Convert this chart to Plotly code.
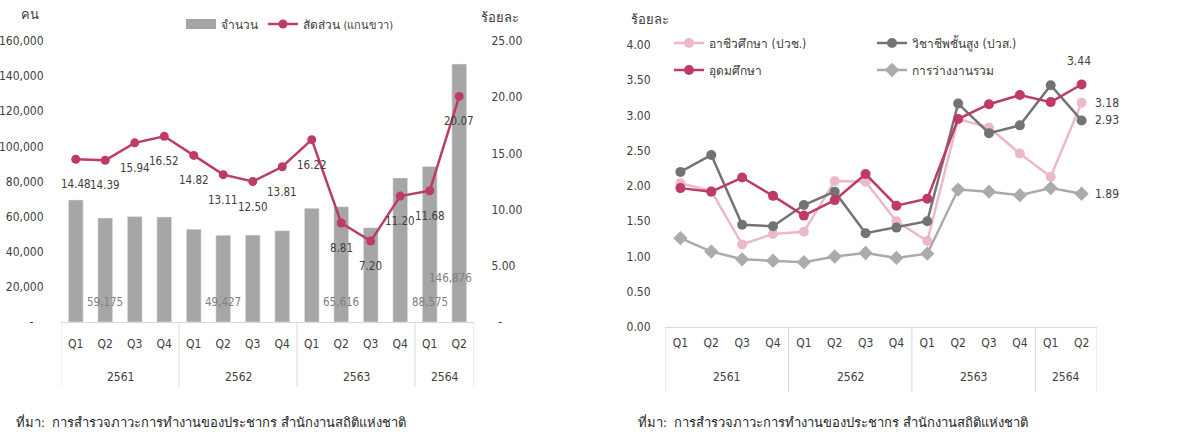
import plotly.graph_objects as go

# ---- shared category axis (Thai Buddhist-era years, quarters) ----
years = ["2561"] * 4 + ["2562"] * 4 + ["2563"] * 4 + ["2564"] * 2
quarters = ["Q1", "Q2", "Q3", "Q4"] * 3 + ["Q1", "Q2"]

# ---- left panel: unemployed graduates (persons) and share (%) ----
grad_unemployed = [69500, 59175, 60000, 59800, 52800, 49427, 49500, 52000,
                   64800, 65616, 53700, 82000, 88575, 146876]
grad_share = [14.48, 14.39, 15.94, 16.52, 14.82, 13.11, 12.50, 13.81,
              16.22, 8.81, 7.20, 11.20, 11.68, 20.07]
labelled_bars = [1, 5, 9, 12, 13]

left_ticks = [0, 20000, 40000, 60000, 80000, 100000, 120000, 140000, 160000]
left_ticktext = ["-\u00a0\u00a0\u00a0"] + [f"{v:,}" for v in left_ticks[1:]]
right_ticks = [0, 5, 10, 15, 20, 25]
right_ticktext = ["\u00a0\u00a0-"] + [f"{v:.2f}" for v in right_ticks[1:]]

# ---- right panel: unemployment rate by education level (%) ----
rate_voc = [2.04, 1.93, 1.17, 1.32, 1.35, 2.07, 2.06, 1.50, 1.22, 2.95, 2.83, 2.46, 2.13, 3.18]
rate_high_voc = [2.20, 2.44, 1.45, 1.43, 1.73, 1.92, 1.33, 1.41, 1.50, 3.17, 2.75, 2.86, 3.43, 2.93]
rate_univ = [1.97, 1.92, 2.12, 1.86, 1.58, 1.80, 2.17, 1.72, 1.82, 2.95, 3.16, 3.29, 3.19, 3.44]
rate_total = [1.26, 1.07, 0.96, 0.94, 0.92, 1.00, 1.05, 0.98, 1.04, 1.95, 1.92, 1.87, 1.97, 1.89]

rate_ticks = [0, 0.5, 1, 1.5, 2, 2.5, 3, 3.5, 4]

CRIMSON = "#BE3A69"
PINK = "#EBB9CA"
DARK = "#737373"
LIGHT = "#ABABAB"
BAR = "#A6A6A6"
TXT = "#404040"
AXIS_LINE = "#D9D9D9"
FONT = "DejaVu Sans Condensed, Liberation Sans, sans-serif"

W, H = 1195, 435


def px(v):
    return v / W


def py(v):
    return 1 - v / H


idx = list(range(len(quarters)))

# year groups: centre position and boundaries along the category axis
groups = []
for i, yv in enumerate(years):
    if not groups or groups[-1][0] != yv:
        groups.append([yv, i, i])
    else:
        groups[-1][2] = i
bounds = [g[1] - 0.5 for g in groups] + [groups[-1][2] + 0.5]

fig = go.Figure()

fig.add_trace(go.Bar(
    x=idx, y=grad_unemployed, name="จำนวน", marker_color=BAR,
    width=0.5, xaxis="x", yaxis="y", showlegend=False,
))
# legend key for the bars, drawn as a wide grey block
fig.add_trace(go.Scatter(
    x=[None], y=[None], name="จำนวน", mode="lines",
    line=dict(color=BAR, width=10), xaxis="x", yaxis="y", legend="legend",
))
fig.add_trace(go.Scatter(
    x=idx, y=grad_share,
    name="สัดส่วน <span style='font-size:11px'>(แกนขวา)</span>",
    mode="lines+markers",
    line=dict(color=CRIMSON, width=2.5), marker=dict(size=9, color=CRIMSON),
    xaxis="x", yaxis="y2", legend="legend",
))

right_series = [
    ("อาชีวศึกษา (ปวช.)", rate_voc, PINK, "circle", "legend2"),
    ("วิชาชีพชั้นสูง (ปวส.)", rate_high_voc, DARK, "circle", "legend2"),
    ("อุดมศึกษา", rate_univ, CRIMSON, "circle", "legend3"),
    ("การว่างงานรวม", rate_total, LIGHT, "diamond", "legend3"),
]
for name, vals, color, symbol, lg in right_series:
    fig.add_trace(go.Scatter(
        x=idx, y=vals, name=name, mode="lines+markers",
        line=dict(color=color, width=2.5),
        marker=dict(size=10 if symbol == "circle" else 11, color=color, symbol=symbol),
        xaxis="x2", yaxis="y3", legend=lg,
    ))

annotations = []
# share labels under each point
for i, v in enumerate(grad_share):
    annotations.append(dict(x=i, y=v, xref="x", yref="y2", text=f"{v:.2f}",
                            showarrow=False, yshift=-25,
                            font=dict(size=11.5, color=TXT)))
# count labels near bar bases
for i in labelled_bars:
    last = i == len(grad_unemployed) - 1
    annotations.append(dict(x=i, y=0, xref="x", yref="y", text=f"{grad_unemployed[i]:,}",
                            showarrow=False, yanchor="bottom",
                            yshift=35 if last else 11, xshift=-9 if last else 0,
                            font=dict(size=11.5, color="#7F7F7F")))
# end-of-series labels on the right panel
n = len(rate_univ) - 1
annotations.append(dict(x=n, y=rate_univ[n], xref="x2", yref="y3", text=f"{rate_univ[n]:.2f}",
                        showarrow=False, yshift=23, xshift=-3, font=dict(size=12, color=TXT)))
for vals in (rate_voc, rate_high_voc, rate_total):
    annotations.append(dict(x=n, y=vals[n], xref="x2", yref="y3", text=f"{vals[n]:.2f}",
                            showarrow=False, xanchor="left", xshift=11,
                            font=dict(size=12, color=TXT)))

# year row under the quarter labels, with table-style dividers
shapes = []
for xa, top, bottom, label_y in (("x", 322, 387, 377), ("x2", 327, 392, 377)):
    for name, first, last in groups:
        annotations.append(dict(x=(first + last) / 2, y=py(label_y), xref=xa, yref="paper",
                                yanchor="middle", text=name, showarrow=False,
                                font=dict(size=12, color=TXT)))
    for b in bounds:
        shapes.append(dict(type="line", xref=xa, yref="paper", x0=b, x1=b,
                           y0=py(top), y1=py(bottom),
                           line=dict(color=AXIS_LINE, width=1)))


def paper_text(x, y, text, xanchor="center", size=13, color=TXT):
    return dict(x=px(x), y=py(y), xref="paper", yref="paper", text=text,
                xanchor=xanchor, yanchor="middle", showarrow=False,
                font=dict(size=size, color=color))


source = "ที่มา:  การสำรวจภาวะการทำงานของประชากร สำนักงานสถิติแห่งชาติ"
annotations += [
    paper_text(30, 15, "คน"),
    paper_text(500, 17, "ร้อยละ"),
    paper_text(650, 19, "ร้อยละ"),
    paper_text(14, 422, source, xanchor="left", color="#262626"),
    paper_text(636, 422, source, xanchor="left", color="#262626"),
]

cat_axis = dict(
    range=[-0.5, len(idx) - 0.5], tickvals=idx, ticktext=quarters,
    showline=True, linecolor=AXIS_LINE, linewidth=1,
    ticks="outside", tickcolor="rgba(0,0,0,0)",
    showgrid=False, zeroline=False, automargin=False,
    tickfont=dict(size=12, color=TXT),
)
val_axis = dict(showgrid=False, zeroline=False, showline=False, automargin=False,
                ticks="outside", tickcolor="rgba(0,0,0,0)",
                tickfont=dict(size=12, color=TXT))

legend_common = dict(orientation="h", bgcolor="rgba(0,0,0,0)",
                     font=dict(size=12, color=TXT), xanchor="left", yanchor="middle")

fig.update_layout(
    width=W, height=H, margin=dict(l=0, r=0, t=0, b=0),
    paper_bgcolor="white", plot_bgcolor="white",
    font=dict(family=FONT, color=TXT),
    barmode="overlay",
    xaxis=dict(cat_axis, domain=[px(61), px(474)], anchor="y", ticklen=11),
    yaxis=dict(val_axis, domain=[py(322), py(41)], range=[0, 160000],
               tickvals=left_ticks, ticktext=left_ticktext, ticklen=14, anchor="x"),
    yaxis2=dict(val_axis, overlaying="y", side="right", range=[0, 25],
                tickvals=right_ticks, ticktext=right_ticktext, ticklen=14, anchor="x"),
    xaxis2=dict(cat_axis, domain=[px(665), px(1097)], anchor="y3", ticklen=5),
    yaxis3=dict(val_axis, domain=[py(327), py(45)], range=[0, 4],
                tickvals=rate_ticks, tickformat=".2f", ticklen=11, anchor="x2"),
    legend=dict(legend_common, x=px(181), y=py(24)),
    legend2=dict(legend_common, x=px(669), y=py(43), entrywidth=158),
    legend3=dict(legend_common, x=px(669), y=py(70), entrywidth=158),
    annotations=annotations,
    shapes=shapes,
)

fig.write_html("out.html")
